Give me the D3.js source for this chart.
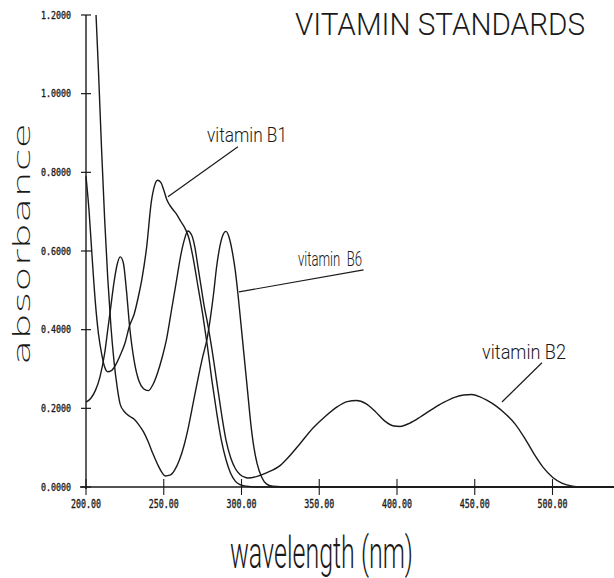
<!DOCTYPE html>
<html><head><meta charset="utf-8">
<script src="https://cdn.jsdelivr.net/npm/d3@7"></script>
<style>body{margin:0;background:#fff}svg{display:block}</style>
</head><body><svg id="chart" width="614" height="578"></svg>
<script>
// ---- data ----
const xTicks = [200, 250, 300, 350, 400, 450, 500];
const xTickLabels = ["200.00", "250.00", "300.00", "350.00", "400.00", "450.00", "500.00"];
const yTicks = [0, 0.2, 0.4, 0.6, 0.8, 1.0, 1.2];
const yTickLabels = ["0.0000", "0.2000", "0.4000", "0.6000", "0.8000", "1.0000", "1.2000"];

const b1Wavelength = [200,202,204,206,208,210,212,214,216,219,222,225,228,231,234,236,239,242,244,246,248,250,252,255,258,261,264,266,269,272,275,278,281,284,287,290,293,296,299,303,310,320,540];
const b1Absorbance = [0.79,0.70,0.58,0.47,0.39,0.34,0.305,0.293,0.295,0.31,0.335,0.365,0.41,0.44,0.49,0.53,0.61,0.725,0.765,0.78,0.775,0.755,0.73,0.71,0.695,0.675,0.655,0.635,0.58,0.51,0.44,0.36,0.27,0.19,0.12,0.07,0.035,0.015,0.006,0.002,0,0,0];

const b2Wavelength = [200,203,206,209,212,214,216,218,220,222,224,226,228,231,234,237,240,243,246,249,252,255,258,261,263,265.5,268,270,272,274,276,278,281,284,287,290,293,296,299,302,304,310,316,325,330,338,346,354,362,368,374,380,386,392,398,402,408,415,422,430,437,443,448,453,458,464,470,476,482,488,494,500,506,512,520,540];
const b2Absorbance = [0.216,0.225,0.245,0.28,0.34,0.40,0.46,0.52,0.565,0.585,0.57,0.50,0.41,0.32,0.27,0.25,0.245,0.26,0.29,0.33,0.38,0.45,0.52,0.59,0.625,0.651,0.64,0.61,0.56,0.51,0.46,0.42,0.35,0.27,0.19,0.12,0.075,0.047,0.032,0.025,0.023,0.027,0.036,0.055,0.075,0.112,0.15,0.18,0.205,0.217,0.22,0.212,0.192,0.168,0.155,0.154,0.162,0.178,0.196,0.215,0.228,0.234,0.235,0.23,0.22,0.205,0.185,0.16,0.125,0.085,0.05,0.025,0.01,0.003,0,0];

const b6Wavelength = [204,206,208,210,212,214,216,218,220,222,225,228,231,234,237,240,243,246,249,251,254,257,260,263,266,269,272,275,278,280,282,284,286,288,290,292,294,296,298,300,302,304,306,308,310,313,316,320,330,540];
const b6Absorbance = [1.42,1.24,1.06,0.86,0.68,0.53,0.41,0.32,0.255,0.21,0.19,0.18,0.172,0.158,0.14,0.115,0.085,0.058,0.036,0.028,0.03,0.043,0.068,0.105,0.155,0.215,0.275,0.33,0.38,0.43,0.49,0.56,0.61,0.64,0.65,0.635,0.60,0.55,0.48,0.40,0.32,0.24,0.16,0.10,0.06,0.025,0.008,0.002,0,0];

const seriesNames = ["vitamin B1", "vitamin B2", "vitamin  B6"];
// annotation text start/end and leader line ends, in data units (nm, absorbance)
const labelStart = [[277.8, 0.878], [454.7, 0.326], [336.3, 0.562]];
const labelEndNm = [329.3, 508.7, 377.5];
const leaderFrom = [[297.7, 0.865], [493.2, 0.316], [378.5, 0.552]];
const leaderTo = [[252.7, 0.738], [467.5, 0.216], [298.4, 0.496]];

const titleText = "VITAMIN STANDARDS";
const xTitle = "wavelength (nm)";
const yTitle = "absorbance";

// ---- drawing ----
const svg = d3.select("#chart");
const x = d3.scaleLinear().domain([200, 540]).range([86, 614.7]);
const y = d3.scaleLinear().domain([0, 1.2]).range([487, 15]);
const ink = "#1a1a1a";

svg.append("defs").append("clipPath").attr("id", "plotclip")
  .append("rect").attr("x", 80).attr("y", y(1.2)).attr("width", 540).attr("height", y(0) - y(1.2) + 10);

// axes
const xAxis = d3.axisBottom(x).tickValues(xTicks).tickSizeInner(0).tickSizeOuter(0).tickFormat("");
const gx = svg.append("g").attr("transform", `translate(0,${y(0)})`).call(xAxis);
gx.select(".domain").remove();
svg.append("line").attr("x1", 80).attr("x2", 614).attr("y1", y(0)).attr("y2", y(0))
  .attr("stroke", ink).attr("stroke-width", 1.6);
xTicks.forEach((t, i) => {
  svg.append("line").attr("x1", x(t)).attr("x2", x(t)).attr("y1", y(0) - 8).attr("y2", y(0) + 8)
    .attr("stroke", ink).attr("stroke-width", 1.1);
  svg.append("text").attr("x", x(t)).attr("y", 508).attr("text-anchor", "middle")
    .attr("font-family", "DejaVu Sans Mono").attr("font-size", 11.5)
    .attr("textLength", 30).attr("lengthAdjust", "spacingAndGlyphs")
    .attr("stroke", ink).attr("stroke-width", 0.35)
    .attr("fill", ink).text(xTickLabels[i]);
});
svg.append("line").attr("x1", x(200)).attr("x2", x(200)).attr("y1", y(1.2)).attr("y2", y(0) + 2)
  .attr("stroke", ink).attr("stroke-width", 1.4);
yTicks.forEach((t, i) => {
  svg.append("line").attr("x1", x(200) - 5).attr("x2", x(200) + 5).attr("y1", y(t)).attr("y2", y(t))
    .attr("stroke", ink).attr("stroke-width", 1.2);
  svg.append("text").attr("x", 71).attr("y", y(t) + 3.8).attr("text-anchor", "end")
    .attr("font-family", "DejaVu Sans Mono").attr("font-size", 10.5)
    .attr("textLength", 30).attr("lengthAdjust", "spacingAndGlyphs")
    .attr("stroke", ink).attr("stroke-width", 0.35)
    .attr("fill", ink).text(yTickLabels[i]);
});

// curves
const series = [
  { w: b1Wavelength, a: b1Absorbance },
  { w: b2Wavelength, a: b2Absorbance },
  { w: b6Wavelength, a: b6Absorbance }
];
const line = d3.line().x(d => x(d[0])).y(d => y(d[1])).curve(d3.curveMonotoneX);
const plot = svg.append("g").attr("clip-path", "url(#plotclip)");
series.forEach(s => {
  plot.append("path").datum(s.w.map((w, i) => [w, s.a[i]]))
    .attr("d", line).attr("fill", "none").attr("stroke", ink).attr("stroke-width", 1.4);
});

// annotations
seriesNames.forEach((name, i) => {
  svg.append("line")
    .attr("x1", x(leaderFrom[i][0])).attr("y1", y(leaderFrom[i][1]))
    .attr("x2", x(leaderTo[i][0])).attr("y2", y(leaderTo[i][1]))
    .attr("stroke", ink).attr("stroke-width", 1.2);
  svg.append("text").attr("x", x(labelStart[i][0])).attr("y", y(labelStart[i][1]))
    .attr("font-family", "Roboto").attr("font-weight", 300).attr("font-size", 21)
    .style("white-space", "pre")
    .attr("textLength", x(labelEndNm[i]) - x(labelStart[i][0])).attr("lengthAdjust", "spacingAndGlyphs")
    .attr("fill", ink).text(name);
});

// titles
svg.append("text").attr("x", 295).attr("y", 35)
  .attr("font-family", "Roboto").attr("font-weight", 300).attr("font-size", 31)
  .attr("textLength", 290).attr("lengthAdjust", "spacingAndGlyphs")
  .attr("fill", ink).text(titleText);
svg.append("text").attr("x", 230).attr("y", 568)
  .attr("font-family", "Roboto").attr("font-weight", 300).attr("font-size", 45)
  .attr("textLength", 183).attr("lengthAdjust", "spacingAndGlyphs")
  .attr("fill", ink).text(xTitle);
svg.append("text").attr("transform", "translate(30,365) rotate(-90)")
  .attr("font-family", "DejaVu Sans").attr("font-weight", 300).attr("font-size", 23)
  .attr("textLength", 242).attr("lengthAdjust", "spacingAndGlyphs")
  .attr("fill", ink).text(yTitle);
</script>
</body></html>
